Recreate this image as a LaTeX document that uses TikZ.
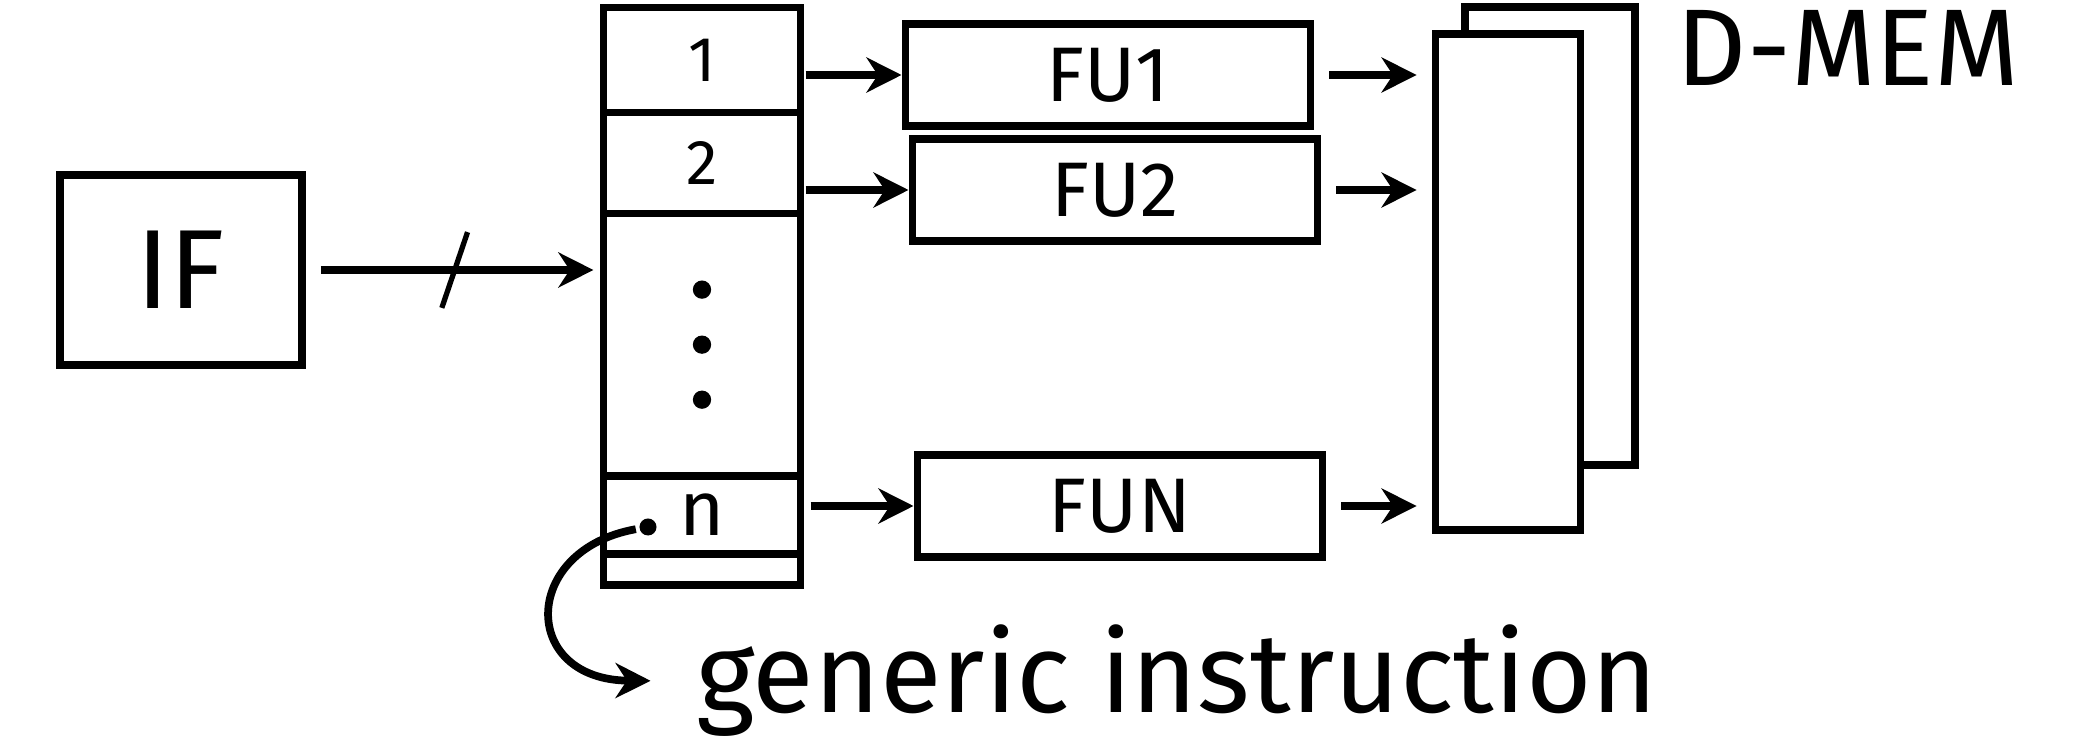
\documentclass[tikz,border=0pt]{standalone}
\usepackage{fontspec}
\setmainfont{Fira Sans}
\usetikzlibrary{arrows.meta,positioning}

\begin{document}
\begin{tikzpicture}[
                x=0.01cm, y=-0.01cm,
                line width=2.2pt,
                slot/.style={rectangle, draw, outer sep=0pt, inner sep=0pt, minimum width=1.97cm, font=\fontsize{18}{20}\selectfont},
                fu/.style={rectangle, draw, minimum width=4.05cm, minimum height=1.02cm, font=\fontsize{22}{24}\selectfont},
                mem/.style={rectangle, draw, fill=white},
                arr/.style={-{Stealth[length=3.5mm, width=3.5mm]}, line width=2.2pt},
            ]
            \useasboundingbox (0,0) rectangle (2074,755);
            \node[rectangle, draw, minimum width=2.42cm, minimum height=1.9cm, font=\fontsize{32}{36}\selectfont] (ifu) at (181,270) {IF};
            \node[slot, minimum height=1.05cm] (s1) at (702,60) {1};
            \node[slot, minimum height=1.01cm, below=0pt of s1] (s2) {2};
            \node[slot, minimum height=2.62cm, below=0pt of s2] (sdots) {};
            \node[slot, minimum height=0.78cm, below=0pt of sdots, font=\fontsize{22}{24}\selectfont] (sn) {n};
            \node[slot, minimum height=0.31cm, below=0pt of sn] (sx) {};
            \node[fu] (fu1) at (1108,75) {FU1};
            \node[fu] (fu2) at (1115,190) {FU2};
            \node[fu] (fun) at (1120,506) {FUN};
            \node[mem, minimum width=1.7cm, minimum height=4.58cm] (dback) at (1550,236) {};
            \node[mem, minimum width=1.45cm, minimum height=4.95cm] (dmem) at (1508,282) {};
            \node[font=\fontsize{31}{34}\selectfont] (dlabel) at (1848,48) {D-MEM};
            \node[circle, fill, inner sep=0pt, minimum size=0.17cm] (dot) at (648,527) {};
            \node[font=\fontsize{32}{36}\selectfont] (gi) at (1177,681) {generic instruction};

            \foreach \k in {-1,0,1}
                \fill ([yshift=\k*0.55cm]sdots.center) circle (2.6pt);

            \draw[arr, shorten <=0.15cm, shorten >=0.1cm] (ifu.east) -- node[inner sep=0pt, minimum width=0.18cm, minimum height=0.68cm] (bus) {} (ifu.east -| sdots.west);
            \draw[line width=1.5pt] (bus.north east) -- (bus.south west);
            \draw[arr, shorten <=0.05cm] (s1.east |- fu1.west) -- (fu1.west);
            \draw[arr, shorten <=0.05cm] (s2.east |- fu2.west) -- (fu2.west);
            \draw[arr, shorten <=0.1cm] (sn.east |- fun.west) -- (fun.west);
            \draw[arr, shorten <=0.15cm, shorten >=0.15cm] (fu1.east) -- (fu1.east -| dmem.west);
            \draw[arr, shorten <=0.15cm, shorten >=0.15cm] (fu2.east) -- (fu2.east -| dmem.west);
            \draw[arr, shorten <=0.15cm, shorten >=0.15cm] (fun.east) -- (fun.east -| dmem.west);
            \draw[arr, shorten >=0.3cm] (dot) .. controls (520,550) and (520,680) .. (gi.west);
        \end{tikzpicture}
\end{document}
